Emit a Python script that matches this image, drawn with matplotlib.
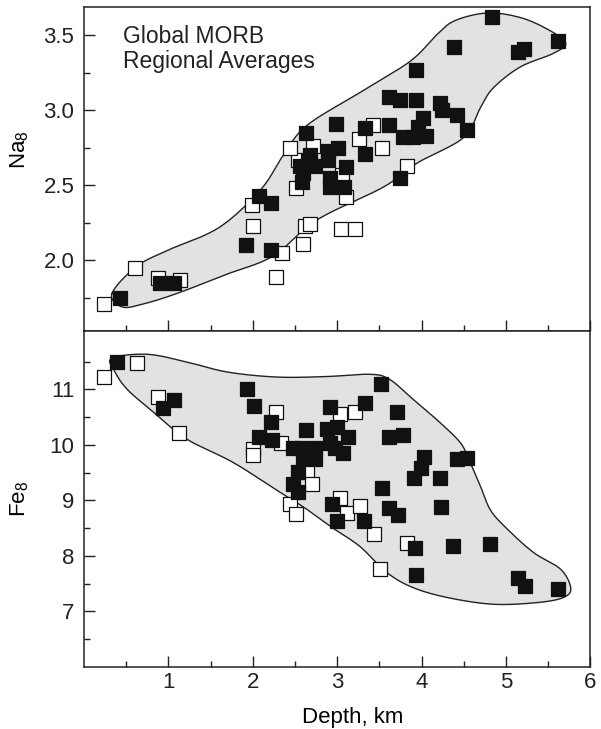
import numpy as np
import matplotlib
matplotlib.use("Agg")
import matplotlib.pyplot as plt
from matplotlib.ticker import MultipleLocator, FixedLocator, FormatStrFormatter

plt.rcParams["font.family"] = ["Liberation Sans", "DejaVu Sans"]
plt.rcParams["mathtext.default"] = "regular"

# ---------------------------------------------------------------------------
# Regional averages: depth (km) vs Na8 / Fe8
# ---------------------------------------------------------------------------
na_solid_depth = [0.42, 0.90, 1.06, 1.92, 2.07, 2.22, 2.22, 2.59, 2.74, 2.56,
                  2.63, 2.68, 2.65, 2.58, 2.89, 3.01, 2.89, 2.92, 2.92, 3.10,
                  3.08, 2.99, 3.33, 3.33, 3.61, 3.62, 3.75, 3.93, 3.93, 4.22,
                  4.24, 4.42, 4.54, 4.02, 3.96, 3.78, 3.90, 4.05, 3.75, 4.38,
                  4.83, 5.14, 5.22, 5.62]
na_solid_val = [1.75, 1.85, 1.85, 2.10, 2.43, 2.38, 2.07, 2.58, 2.63, 2.63,
                2.85, 2.70, 2.66, 2.52, 2.73, 2.75, 2.67, 2.55, 2.49, 2.62,
                2.49, 2.91, 2.88, 2.71, 2.90, 3.09, 3.07, 3.07, 3.27, 3.05,
                3.00, 2.97, 2.87, 2.95, 2.89, 2.82, 2.82, 2.83, 2.55, 3.42,
                3.62, 3.39, 3.41, 3.46]

na_open_depth = [0.23, 0.60, 0.87, 1.14, 1.99, 2.00, 2.27, 2.35, 2.59, 2.53,
                 2.51, 2.44, 2.71, 2.62, 2.68, 3.06, 3.10, 3.04, 3.21, 3.26,
                 3.43, 3.53, 3.83]
na_open_val = [1.71, 1.95, 1.88, 1.87, 2.37, 2.23, 1.89, 2.05, 2.11, 2.67,
               2.48, 2.75, 2.76, 2.23, 2.24, 2.57, 2.42, 2.21, 2.21, 2.81,
               2.90, 2.75, 2.63]

fe_solid_depth = [0.39, 0.94, 1.06, 1.93, 2.01, 2.21, 2.07, 2.23, 2.48, 2.57,
                  2.74, 2.63, 2.92, 2.88, 3.00, 3.13, 2.92, 2.98, 3.07, 3.33,
                  3.52, 3.71, 3.61, 3.78, 2.60, 2.74, 2.53, 2.48, 2.54, 2.94,
                  3.00, 3.32, 3.53, 3.61, 3.72, 4.03, 3.99, 3.91, 4.22, 4.42,
                  4.54, 4.23, 3.92, 4.37, 3.93, 4.81, 5.14, 5.23, 5.62]
fe_solid_val = [11.50, 10.66, 10.80, 11.01, 10.70, 10.42, 10.15, 10.08, 9.95, 9.95,
                9.95, 10.26, 10.69, 10.28, 10.32, 10.15, 10.04, 9.95, 9.86, 10.76,
                11.09, 10.59, 10.14, 10.17, 9.74, 9.74, 9.52, 9.29, 9.16, 8.93,
                8.62, 8.62, 9.23, 8.87, 8.74, 9.78, 9.58, 9.40, 9.40, 9.75,
                9.76, 8.88, 8.14, 8.17, 7.65, 8.22, 7.61, 7.45, 7.40]

fe_open_depth = [0.23, 0.63, 0.87, 1.12, 2.27, 2.33, 2.00, 2.00, 3.03, 3.21,
                 2.64, 2.70, 2.44, 2.51, 3.03, 3.12, 3.27, 3.44, 3.83, 3.51]
fe_open_val = [11.23, 11.47, 10.86, 10.21, 10.60, 10.04, 9.93, 9.81, 10.55, 10.59,
               9.52, 9.29, 8.93, 8.75, 9.05, 8.78, 8.90, 8.39, 8.23, 7.76]

# hand-drawn envelopes around each data field
na_env_x = [0.33, 0.62, 1.00, 1.60, 2.09, 2.36, 2.64, 3.30, 3.87, 4.19, 4.40,
            4.78, 5.17, 5.50, 5.71, 5.56, 5.17, 4.85, 4.70, 4.50, 3.95, 3.55,
            2.76, 2.24, 1.70, 1.10, 0.70, 0.45]
na_env_y = [1.78, 1.96, 2.07, 2.22, 2.47, 2.70, 2.90, 3.13, 3.33, 3.51, 3.60,
            3.65, 3.62, 3.54, 3.45, 3.38, 3.29, 3.15, 3.02, 2.82, 2.65, 2.49,
            2.27, 2.03, 1.91, 1.78, 1.71, 1.69]

fe_env_x = [0.33, 0.75, 1.22, 1.70, 2.29, 2.88, 3.39, 3.62, 3.90, 4.22, 4.46,
            4.56, 4.70, 4.82, 5.02, 5.33, 5.65, 5.77, 5.68, 5.37, 4.85, 4.31,
            3.90, 3.59, 3.27, 2.95, 2.64, 2.36, 1.77, 1.22, 0.82, 0.51, 0.36]
fe_env_y = [11.56, 11.63, 11.49, 11.31, 11.22, 11.23, 11.27, 11.18, 10.82, 10.40, 10.04,
            9.74, 9.25, 8.82, 8.48, 8.06, 7.76, 7.42, 7.25, 7.16, 7.13, 7.25,
            7.43, 7.70, 8.17, 8.50, 8.84, 9.11, 9.68, 10.10, 10.59, 11.00, 11.33]


def closed_spline(xs, ys, n=20):
    """Closed Catmull-Rom curve through the given vertices."""
    p = np.column_stack([xs, ys])
    m = len(p)
    out = []
    t = np.linspace(0, 1, n, endpoint=False)[:, None]
    for i in range(m):
        p0, p1, p2, p3 = p[(i - 1) % m], p[i], p[(i + 1) % m], p[(i + 2) % m]
        seg = 0.5 * ((2 * p1) + (-p0 + p2) * t
                     + (2 * p0 - 5 * p1 + 4 * p2 - p3) * t ** 2
                     + (-p0 + 3 * p1 - 3 * p2 + p3) * t ** 3)
        out.append(seg)
    out = np.vstack(out)
    return np.vstack([out, out[:1]])


fig = plt.figure(figsize=(6.01, 7.29), dpi=100)
ax_na = fig.add_axes([0.140, 0.5460, 0.842, 0.4444])
ax_fe = fig.add_axes([0.140, 0.0850, 0.842, 0.4610])

FS = 16
MS = 100

for ax, ex, ey, ox, oy, sx, sy in [
        (ax_na, na_env_x, na_env_y, na_open_depth, na_open_val, na_solid_depth, na_solid_val),
        (ax_fe, fe_env_x, fe_env_y, fe_open_depth, fe_open_val, fe_solid_depth, fe_solid_val)]:
    env = closed_spline(ex, ey)
    ax.fill(env[:, 0], env[:, 1], facecolor="#e2e2e2", edgecolor="none", zorder=1)
    ax.plot(env[:, 0], env[:, 1], color="#222222", lw=1.0, zorder=2)
    ax.scatter(ox, oy, marker="s", s=MS, facecolor="white", edgecolor="#111111",
               linewidth=0.9, zorder=3)
    ax.scatter(sx, sy, marker="s", s=MS, facecolor="#111111", edgecolor="#111111",
               linewidth=0.9, zorder=4)

    ax.set_xlim(0, 6)
    ax.xaxis.set_major_locator(FixedLocator([1, 2, 3, 4, 5, 6]))
    ax.xaxis.set_minor_locator(FixedLocator([0.5, 1.5, 2.5, 3.5, 4.5, 5.5]))
    ax.tick_params(which="both", direction="in", top=False, right=False,
                   labelsize=FS, width=1.0, colors="#222222")
    ax.tick_params(which="major", length=8)
    ax.tick_params(axis="y", which="major", pad=7)
    ax.tick_params(which="minor", length=4.5)
    for sp in ax.spines.values():
        sp.set_linewidth(1.1)
        sp.set_color("#222222")

# Na8 panel
ax_na.set_ylim(1.53, 3.69)
ax_na.yaxis.set_major_locator(MultipleLocator(0.5))
ax_na.yaxis.set_minor_locator(MultipleLocator(0.25))
ax_na.yaxis.set_major_formatter(FormatStrFormatter("%.1f"))
ax_na.tick_params(axis="x", labelbottom=False)
ax_na.set_ylabel("Na$_8$", fontsize=FS)
ax_na.yaxis.set_label_coords(-0.105, 0.56)
ax_na.text(0.46, 3.57, "Global MORB\nRegional Averages", ha="left", va="top",
           fontsize=16.5, linespacing=1.12, color="#222222")

# Fe8 panel
ax_fe.set_ylim(6.0, 12.05)
ax_fe.yaxis.set_major_locator(FixedLocator([7, 8, 9, 10, 11]))
ax_fe.yaxis.set_minor_locator(FixedLocator([6.5, 7.5, 8.5, 9.5, 10.5, 11.5]))
ax_fe.set_ylabel("Fe$_8$", fontsize=FS)
ax_fe.yaxis.set_label_coords(-0.105, 0.5)
ax_fe.set_xlabel("Depth, km", fontsize=FS)
ax_fe.xaxis.set_label_coords(0.53, -0.12)

fig.savefig("out.png", dpi=100)
